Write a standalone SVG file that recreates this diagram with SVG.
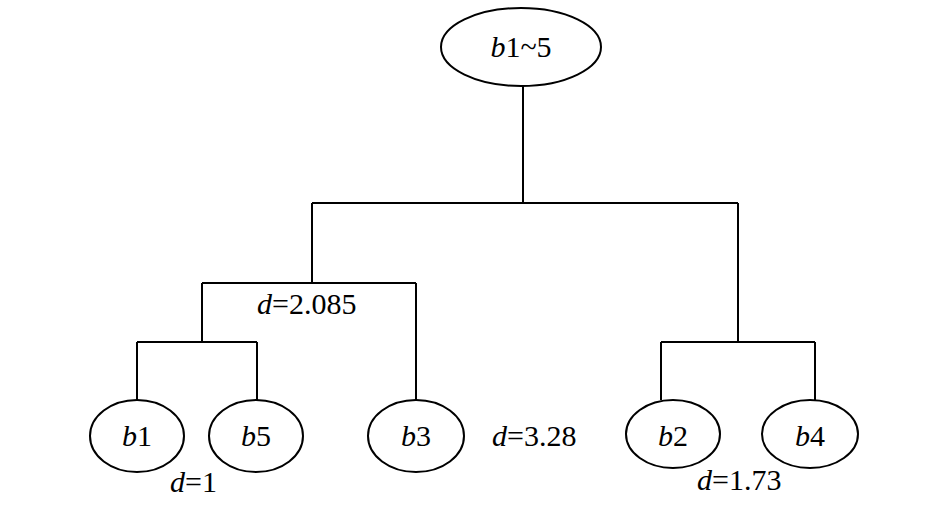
<svg xmlns="http://www.w3.org/2000/svg" width="945" height="505" viewBox="0 0 945 505">
<style>
.n{fill:#fff;stroke:#000;stroke-width:2}
.c{fill:none;stroke:#000;stroke-width:2}
.t{font-family:'Liberation Serif','DejaVu Serif',serif;font-size:30px;fill:#000}
.i{font-style:italic}
.m{text-anchor:middle}
</style>
<rect width="945" height="505" fill="#fff"/>
<g id="connectors">
<path class="c" d="M523,86V203M312,203H738M312,203V283M738,203V342M202,283H416M416,283V400M202,283V342M137,342H257M137,342V400M257,342V400M661,342H815M661,342V400M815,342V400"/>
</g>
<g id="root"><ellipse class="n" cx="521" cy="47" rx="80" ry="39"/><text class="t m" x="521" y="57" font-family="Liberation Serif, serif"><tspan class="i">b</tspan>1~5</text></g>
<g id="b1"><ellipse class="n" cx="137" cy="436" rx="47" ry="36"/><text class="t m" x="137" y="446" font-family="Liberation Serif, serif"><tspan class="i">b</tspan>1</text></g>
<g id="b5"><ellipse class="n" cx="256" cy="436" rx="47" ry="36"/><text class="t m" x="256" y="446" font-family="Liberation Serif, serif"><tspan class="i">b</tspan>5</text></g>
<g id="b3"><ellipse class="n" cx="416" cy="436" rx="48" ry="36"/><text class="t m" x="416" y="446" font-family="Liberation Serif, serif"><tspan class="i">b</tspan>3</text></g>
<g id="b2"><ellipse class="n" cx="673" cy="434" rx="47" ry="34"/><text class="t m" x="673" y="446" font-family="Liberation Serif, serif"><tspan class="i">b</tspan>2</text></g>
<g id="b4"><ellipse class="n" cx="810" cy="434" rx="48" ry="34"/><text class="t m" x="810" y="446" font-family="Liberation Serif, serif"><tspan class="i">b</tspan>4</text></g>
<g id="labels">
<text class="t" x="257" y="314" font-family="Liberation Serif, serif"><tspan class="i">d</tspan>=2.085</text>
<text class="t" x="492" y="446" font-family="Liberation Serif, serif"><tspan class="i">d</tspan>=3.28</text>
<text class="t" x="170" y="492" font-family="Liberation Serif, serif"><tspan class="i">d</tspan>=1</text>
<text class="t" x="697" y="490" font-family="Liberation Serif, serif"><tspan class="i">d</tspan>=1.73</text>
</g>
</svg>
